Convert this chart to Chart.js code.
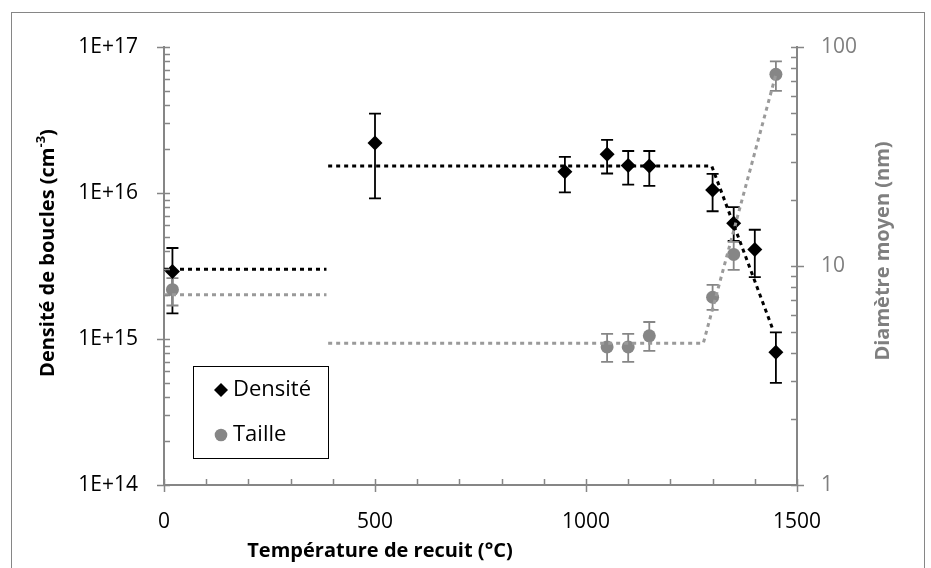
<!DOCTYPE html>
<html><head><meta charset="utf-8">
<script src="https://cdn.jsdelivr.net/npm/chart.js@4.4.1/dist/chart.umd.min.js"></script>
<style>html,body{margin:0;padding:0;background:#fff}#wrap{width:931px;height:568px;position:relative}</style>
</head><body><div id="wrap"><canvas id="c" width="931" height="568"></canvas></div>
<script>
// ---- data ----
const seriesNames = ['Densité', 'Taille'];
const temperaturesDensite = [20, 500, 950, 1050, 1100, 1150, 1300, 1350, 1400, 1450];
const densite      = [2.9e15, 2.2e16, 1.4e16, 1.84e16, 1.54e16, 1.53e16, 1.05e16, 6.2e15, 4.1e15, 8.1e14];
const densiteHaut  = [4.2e15, 3.5e16, 1.77e16, 2.31e16, 1.94e16, 1.94e16, 1.35e16, 8.0e15, 5.6e15, 1.11e15];
const densiteBas   = [1.5e15, 9.2e15, 1.01e16, 1.36e16, 1.14e16, 1.12e16, 7.5e15, 4.7e15, 2.65e15, 5.0e14];
const temperaturesTaille = [20, 1050, 1100, 1150, 1300, 1350, 1450];
const taille      = [7.8, 4.27, 4.27, 4.8, 7.2, 11.3, 75];
const tailleHaut  = [8.8, 4.9, 4.9, 5.55, 8.2, 12.9, 86];
const tailleBas   = [6.6, 3.65, 3.65, 4.1, 6.3, 9.6, 63];
const guideDensiteBasseT = [0, 385];
const guideDensiteBasse  = [3e15, 3e15];
const guideDensiteHauteT = [389, 1298, 1441];
const guideDensiteHaute  = [1.53e16, 1.53e16, 1.2e15];
const guideTailleBasseT  = [0, 385];
const guideTailleBasse   = [7.4, 7.4];
const guideTailleHauteT  = [389, 1278, 1450];
const guideTailleHaute   = [4.44, 4.44, 75];
const xMajorTicks = [0, 500, 1000, 1500];
const xStep = 100;
const leftDecades = [14, 15, 16, 17];
const rightDecades = [0, 1, 2];
const titreX = 'Température de recuit (°C)';
const titreY1 = ['Densité de boucles (cm', '-3', ')'];
const titreY2 = 'Diamètre moyen (nm)';

// ---- styles ----
const AXIS = '#868686';
const GREY_PT = '#868686';
const GREY_LINE = '#9a9a9a';
const FONT = '"Open Sans", "Liberation Sans", sans-serif';

const pts = (xs, ys) => xs.map((x, i) => ({x, y: ys[i]}));

function logTicks(decs) {
  return s => {
    const t = [];
    for (let i = 0; i < decs.length - 1; i++)
      for (let m = 1; m < 10; m++) t.push({value: m * Math.pow(10, decs[i])});
    t.push({value: Math.pow(10, decs[decs.length - 1])});
    s.ticks = t;
  };
}
const isDecade = v => Math.abs(Math.log10(v) - Math.round(Math.log10(v))) < 1e-9;

const guide = (label, xs, ys, color, axis) => ({
  label, data: pts(xs, ys), yAxisID: axis, showLine: true, pointRadius: 0,
  borderColor: color, borderWidth: 3, borderDash: [4, 4], borderCapStyle: 'butt', fill: false
});

function diamond(ctx, x, y, r) {
  ctx.beginPath(); ctx.moveTo(x - r, y); ctx.lineTo(x, y - r); ctx.lineTo(x + r, y); ctx.lineTo(x, y + r); ctx.closePath(); ctx.fill();
}

const decor = {
  id: 'decor',
  beforeDatasetsDraw(chart) {
    const ctx = chart.ctx, sx = chart.scales.x;
    const bars = [
      {t: temperaturesDensite, hi: densiteHaut, lo: densiteBas, s: chart.scales.y, c: '#000'},
      {t: temperaturesTaille, hi: tailleHaut, lo: tailleBas, s: chart.scales.y2, c: GREY_PT}
    ];
    ctx.save();
    bars.forEach(b => {
      ctx.strokeStyle = b.c; ctx.lineWidth = 1.8;
      b.t.forEach((t, i) => {
        const x = sx.getPixelForValue(t), y1 = b.s.getPixelForValue(b.hi[i]), y2 = b.s.getPixelForValue(b.lo[i]);
        ctx.beginPath();
        ctx.moveTo(x, y1); ctx.lineTo(x, y2);
        ctx.moveTo(x - 6, y1); ctx.lineTo(x + 6, y1);
        ctx.moveTo(x - 6, y2); ctx.lineTo(x + 6, y2);
        ctx.stroke();
      });
    });
    ctx.restore();
  },
  afterDraw(chart) {
    const ctx = chart.ctx, a = chart.chartArea;
    const sx = chart.scales.x, sy = chart.scales.y, sy2 = chart.scales.y2;
    ctx.save();
    // ticks
    ctx.strokeStyle = AXIS; ctx.lineWidth = 1.5;
    ctx.beginPath();
    sx.ticks.forEach(t => {
      const x = Math.round(sx.getPixelForValue(t.value)) + 0.5;
      const major = xMajorTicks.includes(t.value);
      ctx.moveTo(x, a.bottom - 6); ctx.lineTo(x, a.bottom + (major ? 7 : 0));
    });
    sy.ticks.forEach(t => {
      const y = Math.round(sy.getPixelForValue(t.value)) + 0.5;
      const major = isDecade(t.value);
      ctx.moveTo(a.left - (major ? 7 : 0), y); ctx.lineTo(a.left + 6, y);
    });
    sy2.ticks.forEach(t => {
      const y = Math.round(sy2.getPixelForValue(t.value)) + 0.5;
      const major = isDecade(t.value);
      ctx.moveTo(a.right - 6, y); ctx.lineTo(a.right + (major ? 7 : 0), y);
    });
    ctx.stroke();

    // legend
    const lx = a.left + 29, ly = a.top + 319;
    ctx.strokeStyle = '#000'; ctx.lineWidth = 1;
    ctx.strokeRect(lx + 0.5, ly + 0.5, 135, 92);
    ctx.fillStyle = '#000'; diamond(ctx, lx + 28, ly + 24, 7);
    ctx.fillStyle = GREY_PT; ctx.beginPath(); ctx.arc(lx + 28, ly + 69, 6.3, 0, Math.PI * 2); ctx.fill();
    ctx.fillStyle = '#000'; ctx.font = '22px ' + FONT; ctx.textBaseline = 'middle'; ctx.textAlign = 'left';
    ctx.fillText(seriesNames[0], lx + 40, ly + 24);
    ctx.fillText(seriesNames[1], lx + 40, ly + 69);

    // axis titles
    ctx.font = 'bold 20px ' + FONT; ctx.textAlign = 'center'; ctx.textBaseline = 'middle';
    ctx.fillStyle = '#000';
    ctx.fillText(titreX, 380, 551);
    // left
    ctx.save(); ctx.translate(48, 253); ctx.rotate(-Math.PI / 2);
    const f1 = 'bold 20px ' + FONT, f2 = 'bold 13px ' + FONT;
    ctx.font = f1; const w1 = ctx.measureText(titreY1[0]).width, w3 = ctx.measureText(titreY1[2]).width;
    ctx.font = f2; const w2 = ctx.measureText(titreY1[1]).width;
    let sxp = -(w1 + w2 + w3) / 2;
    ctx.textAlign = 'left';
    ctx.font = f1; ctx.fillText(titreY1[0], sxp, 0);
    ctx.font = f2; ctx.fillText(titreY1[1], sxp + w1, -7);
    ctx.font = f1; ctx.fillText(titreY1[2], sxp + w1 + w2, 0);
    ctx.restore();
    // right
    ctx.save(); ctx.translate(883, 251); ctx.rotate(-Math.PI / 2);
    ctx.fillStyle = '#7f7f7f'; ctx.font = 'bold 20px ' + FONT; ctx.textAlign = 'center';
    ctx.fillText(titreY2, 0, 0);
    ctx.restore();

    // outer border
    ctx.strokeStyle = AXIS; ctx.lineWidth = 1;
    ctx.strokeRect(11.5, 12.5, 913, 560);
    ctx.restore();
  }
};

new Chart(document.getElementById('c'), {
  type: 'scatter',
  data: {
    datasets: [
      guide('gdb', guideDensiteBasseT, guideDensiteBasse, '#000', 'y'),
      guide('gdh', guideDensiteHauteT, guideDensiteHaute, '#000', 'y'),
      guide('gtb', guideTailleBasseT, guideTailleBasse, GREY_LINE, 'y2'),
      guide('gth', guideTailleHauteT, guideTailleHaute, GREY_LINE, 'y2'),
      {label: seriesNames[0], data: pts(temperaturesDensite, densite), yAxisID: 'y',
       pointStyle: 'rectRot', pointRadius: 7.5, backgroundColor: '#000', borderColor: '#000', borderWidth: 0},
      {label: seriesNames[1], data: pts(temperaturesTaille, taille), yAxisID: 'y2',
       pointStyle: 'circle', pointRadius: 6.5, backgroundColor: GREY_PT, borderColor: GREY_PT, borderWidth: 0}
    ]
  },
  options: {
    responsive: false, animation: false, devicePixelRatio: 1,
    layout: {padding: {top: 47, left: 0, right: 0, bottom: 0}},
    plugins: {legend: {display: false}, tooltip: {enabled: false}},
    scales: {
      x: {
        type: 'linear', min: 0, max: 1500,
        afterBuildTicks: s => { const t = []; for (let v = 0; v <= 1500; v += xStep) t.push({value: v}); s.ticks = t; },
        afterFit: s => { s.height = 83; },
        grid: {display: false, drawTicks: false},
        border: {display: true, color: AXIS, width: 2},
        ticks: {autoSkip: false, maxRotation: 0, padding: 24, color: '#000', font: {family: FONT, size: 21},
                callback: v => xMajorTicks.includes(v) ? String(v) : ''}
      },
      y: {
        type: 'logarithmic', position: 'left', min: 1e14, max: 1e17,
        afterBuildTicks: logTicks(leftDecades),
        afterFit: s => { s.width = 164; },
        grid: {display: false, drawTicks: false},
        border: {display: true, color: AXIS, width: 2},
        ticks: {autoSkip: false, padding: 26, color: '#000', font: {family: FONT, size: 21},
                callback: v => isDecade(v) ? '1E+' + Math.round(Math.log10(v)) : ''}
      },
      y2: {
        type: 'logarithmic', position: 'right', min: 1, max: 100,
        afterBuildTicks: logTicks(rightDecades),
        afterFit: s => { s.width = 134; },
        grid: {display: false, drawTicks: false},
        border: {display: true, color: AXIS, width: 2},
        ticks: {autoSkip: false, padding: 24, color: '#7f7f7f', font: {family: FONT, size: 21},
                callback: v => isDecade(v) ? String(Math.round(v)) : ''}
      }
    }
  },
  plugins: [decor]
});
</script>
</body></html>
